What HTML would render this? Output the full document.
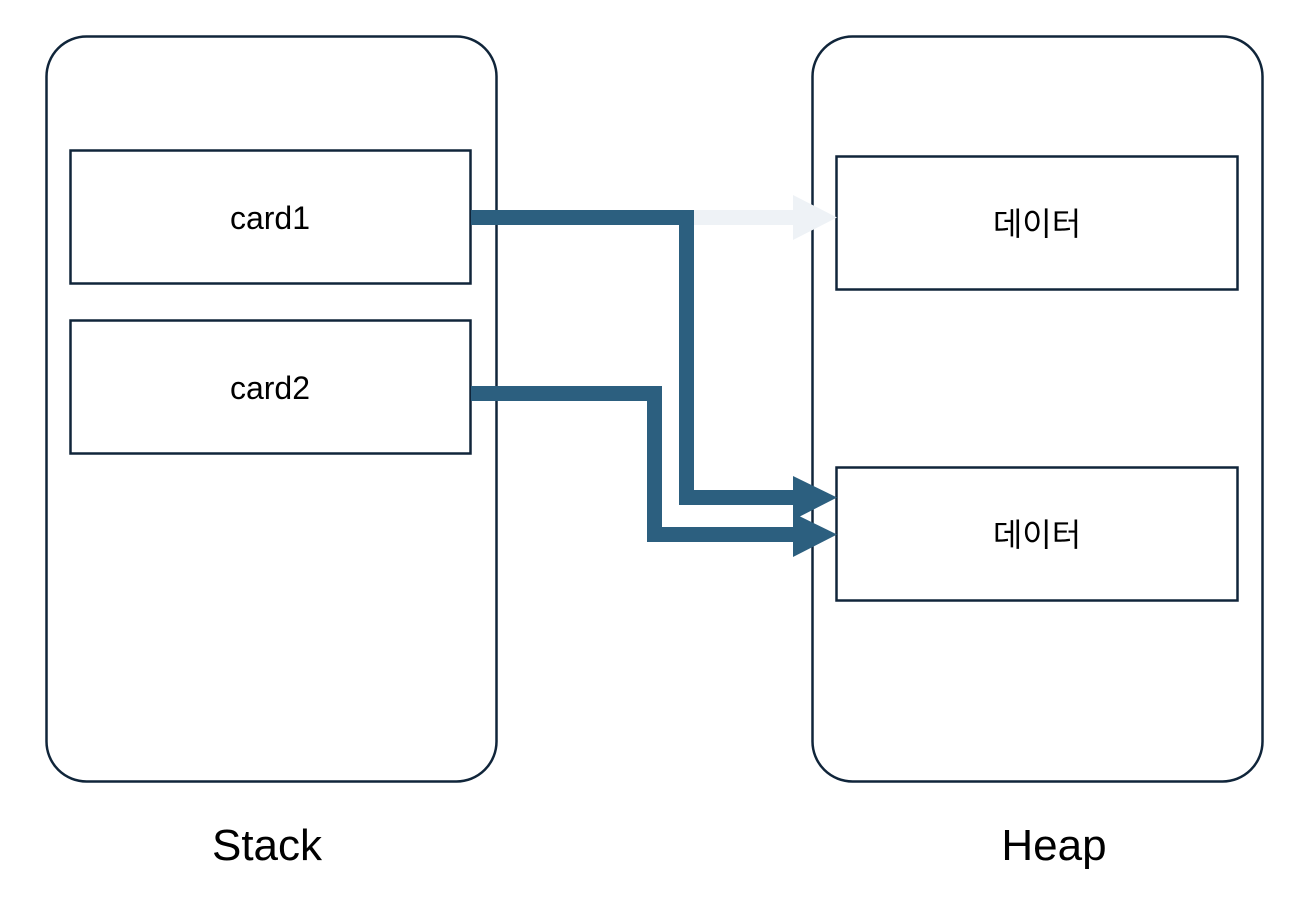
<!DOCTYPE html>
<html><head><meta charset="utf-8"><style>
html,body{margin:0;padding:0;background:#fff;}
svg text{font-family:"Liberation Sans","Noto Sans CJK KR",sans-serif;fill:#000;}
</style></head><body>
<svg width="1292" height="912" viewBox="0 0 1292 912" xmlns="http://www.w3.org/2000/svg">
<g fill="none" stroke="#10253a" stroke-width="2.5">
<rect x="46.5" y="36.5" width="450" height="745" rx="40"/>
<rect x="812.5" y="36.5" width="450" height="745" rx="40"/>
<rect x="70.5" y="150.5" width="400" height="133"/>
<rect x="70.5" y="320.5" width="400" height="133"/>
<rect x="836.5" y="156.5" width="401" height="133"/>
<rect x="836.5" y="467.5" width="401" height="133"/>
</g>
<text x="270" y="229" font-size="32" text-anchor="middle">card1</text>
<text x="270" y="399" font-size="32" text-anchor="middle">card2</text>
<text x="1037" y="235" font-size="32" text-anchor="middle">데이터</text>
<text x="1037" y="546" font-size="32" text-anchor="middle">데이터</text>
<text x="267" y="860" font-size="44" text-anchor="middle">Stack</text>
<text x="1054" y="860" font-size="44" text-anchor="middle">Heap</text>
<!-- faded arrow -->
<path d="M694 217.5 H795" stroke="#eef2f6" stroke-width="15" fill="none"/>
<polygon points="793,195 837,217.5 793,240" fill="#eef2f6"/>
<!-- arrows -->
<g stroke="#2c5f7f" stroke-width="15" fill="none">
<path d="M471 217.5 H686.5 V497.5 H795"/>
<path d="M471 393.5 H654.5 V534.5 H795"/>
</g>
<polygon points="793,476 837,497.5 793,520" fill="#2c5f7f"/>
<polygon points="793,513 837,534.5 793,557" fill="#2c5f7f"/>
</svg>
</body></html>
